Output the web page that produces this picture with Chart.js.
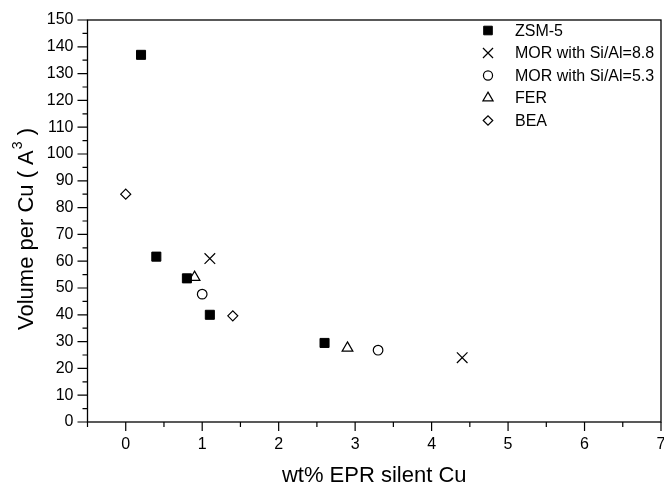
<!DOCTYPE html>
<html>
<head>
<meta charset="utf-8">
<script src="https://cdn.jsdelivr.net/npm/chart.js@4.4.1/dist/chart.umd.min.js"></script>
<style>
html,body{margin:0;padding:0;background:#fff;}
#wrap{width:664px;height:485px;position:relative;}
</style>
</head>
<body>
<div id="wrap"><canvas id="c" width="664" height="485"></canvas></div>
<script>
// ---- data ----
const seriesNames = ["ZSM-5", "MOR with Si/Al=8.8", "MOR with Si/Al=5.3", "FER", "BEA"];
const zsm5X = [0.2, 0.4, 0.8, 1.1, 2.6];
const zsm5Y = [137, 61.7, 53.6, 40, 29.5];
const mor88X = [1.1, 4.4];
const mor88Y = [61, 24];
const mor53X = [1.0, 3.3];
const mor53Y = [47.7, 26.8];
const ferX = [0.9, 2.9];
const ferY = [54, 27.6];
const beaX = [0.0, 1.4];
const beaY = [85, 39.6];
const xTicks = [0, 1, 2, 3, 4, 5, 6, 7];
const yTicks = [0,10,20,30,40,50,60,70,80,90,100,110,120,130,140,150];
const xTitle = "wt% EPR silent Cu";
const yTitleMain = "Volume per Cu ( A";
const yTitleSup = "3";
const yTitleEnd = " )";

const FONT = "'Liberation Sans', Arial, sans-serif";
const pts = (xs, ys) => xs.map((x, i) => ({x: x, y: ys[i]}));

const styles = [
  {pointStyle: 'rect', radius: 6.4, bg: '#000', border: '#000', bw: 1},
  {pointStyle: 'crossRot', radius: 7.5, bg: '#000', border: '#000', bw: 1.2},
  {pointStyle: 'circle', radius: 4.8, bg: '#fff', border: '#000', bw: 1.2},
  {pointStyle: 'triangle', radius: 6.2, bg: '#fff', border: '#000', bw: 1.2},
  {pointStyle: 'rectRot', radius: 5, bg: '#fff', border: '#000', bw: 1.2}
];
const dataSets = [pts(zsm5X, zsm5Y), pts(mor88X, mor88Y), pts(mor53X, mor53Y), pts(ferX, ferY), pts(beaX, beaY)];

const datasets = dataSets.map((d, i) => ({
  label: seriesNames[i],
  data: d,
  pointStyle: styles[i].pointStyle,
  pointRadius: styles[i].radius,
  pointHoverRadius: styles[i].radius,
  pointBackgroundColor: styles[i].bg,
  pointBorderColor: styles[i].border,
  pointBorderWidth: styles[i].bw,
  showLine: false
}));

const framePlugin = {
  id: 'frame',
  afterDraw(chart) {
    const ctx = chart.ctx;
    const a = chart.chartArea;
    const xs = chart.scales.x, ys = chart.scales.y;
    ctx.save();
    ctx.strokeStyle = '#000';
    ctx.lineWidth = 1.3;
    ctx.strokeRect(a.left, a.top, a.right - a.left, a.bottom - a.top);
    // major + minor ticks
    ctx.lineWidth = 1.2;
    ctx.beginPath();
    for (let v = -0.5; v <= 7.001; v += 0.5) {
      const px = xs.getPixelForValue(v);
      const isMajor = Math.abs(v - Math.round(v)) < 1e-6;
      const len = isMajor ? 9 : 5;
      ctx.moveTo(px, a.bottom);
      ctx.lineTo(px, a.bottom + len);
    }
    for (let v = 0; v <= 150.001; v += 5) {
      const py = ys.getPixelForValue(v);
      const isMajor = (v % 10) === 0;
      const len = isMajor ? 10 : 5;
      ctx.moveTo(a.left, py);
      ctx.lineTo(a.left - len, py);
    }
    ctx.stroke();
    // y title
    ctx.fillStyle = '#000';
    const big = '22px ' + FONT, small = '14px ' + FONT;
    ctx.font = big;
    ctx.translate(33, 229);
    ctx.rotate(-Math.PI / 2);
    const w1 = ctx.measureText(yTitleMain).width;
    ctx.font = small;
    const w2 = ctx.measureText(yTitleSup).width;
    ctx.font = big;
    const w3 = ctx.measureText(yTitleEnd).width;
    const total = w1 + w2 + w3 + 1;
    let x0 = -total / 2;
    ctx.textBaseline = 'alphabetic';
    ctx.textAlign = 'left';
    ctx.fillText(yTitleMain, x0, 0);
    ctx.font = small;
    ctx.fillText(yTitleSup, x0 + w1 + 1, -11);
    ctx.font = big;
    ctx.fillText(yTitleEnd, x0 + w1 + w2 + 1, 0);
    ctx.restore();

    // legend
    ctx.save();
    const lx = 488, tx = 515, ly0 = 30.5, dy = 22.5;
    ctx.font = '16px ' + FONT;
    ctx.textBaseline = 'middle';
    ctx.fillStyle = '#000';
    seriesNames.forEach((name, i) => {
      const y = ly0 + i * dy;
      const s = styles[i];
      ctx.fillStyle = s.bg;
      ctx.strokeStyle = s.border;
      ctx.lineWidth = s.bw;
      Chart.helpers.drawPoint(ctx, {pointStyle: s.pointStyle, radius: s.radius * 0.95, rotation: 0, borderWidth: s.bw}, lx, y);
      ctx.fillStyle = '#000';
      ctx.fillText(name, tx, y + 1);
    });
    ctx.restore();
  }
};

new Chart(document.getElementById('c'), {
  type: 'scatter',
  data: {datasets},
  plugins: [framePlugin],
  options: {
    responsive: false,
    animation: false,
    events: [],
    layout: {autoPadding: false, padding: {top: 20, right: 3, left: 0, bottom: 0}},
    plugins: {legend: {display: false}, tooltip: {enabled: false}},
    scales: {
      x: {
        type: 'linear', min: -0.5, max: 7,
        afterBuildTicks: s => { s.ticks = xTicks.map(v => ({value: v})); },
        afterFit: s => { s.height = 63; s.paddingRight = 0; s.paddingLeft = 0; },
        grid: {display: true, drawOnChartArea: false, drawTicks: false},
        border: {display: false},
        ticks: {color: '#000', font: {size: 16, family: FONT}, padding: 13, maxRotation: 0},
        title: {display: true, text: xTitle, color: '#000', font: {size: 22, family: FONT, lineHeight: 1}, padding: {top: 0, bottom: -2}}
      },
      y: {
        type: 'linear', min: 0, max: 150,
        afterBuildTicks: s => { s.ticks = yTicks.map(v => ({value: v})); },
        afterFit: s => { s.width = 87.5; s.paddingTop = 0; s.paddingBottom = 0; },
        grid: {display: true, drawOnChartArea: false, drawTicks: false},
        border: {display: false},
        ticks: {color: '#000', font: {size: 16, family: FONT}, padding: 14}
      }
    }
  }
});
</script>
</body>
</html>
